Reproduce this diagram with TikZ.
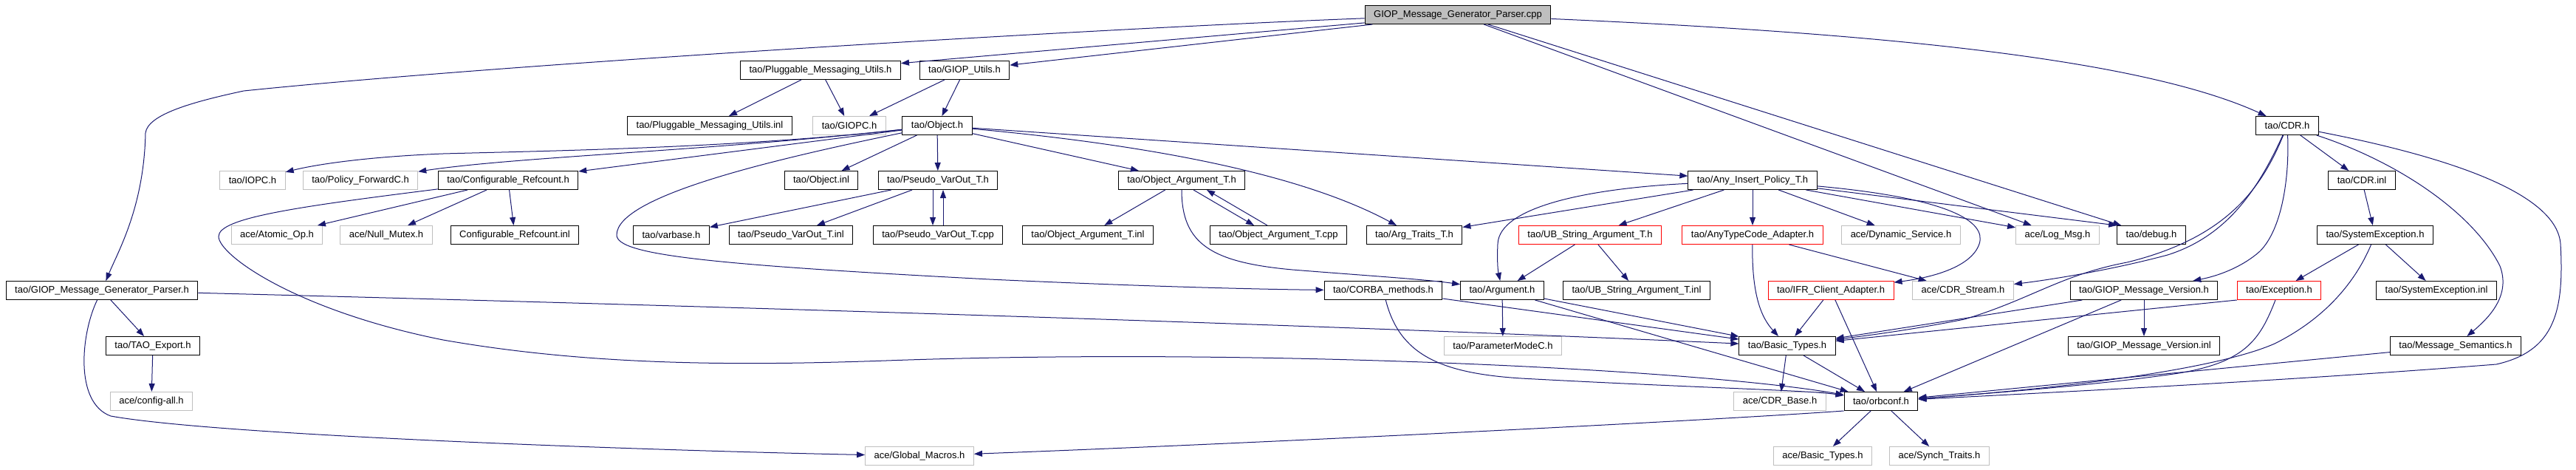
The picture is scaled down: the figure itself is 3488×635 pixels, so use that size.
\documentclass[tikz,border=0pt]{standalone}
\usepackage{fontspec}
\setmainfont{Liberation Sans}
\usetikzlibrary{arrows.meta}
\definecolor{edgeblue}{HTML}{191970}
\definecolor{sysgray}{HTML}{BFBFBF}
\begin{document}
\begin{tikzpicture}[x=1pt,y=-1pt,
	file/.style={draw=black,line width=1pt,minimum height=25pt,inner xsep=12pt,inner ysep=0pt,font=\fontsize{13}{15}\selectfont},
	sysfile/.style={file,draw=sysgray},
	redfile/.style={file,draw=red},
	rootfile/.style={file,fill=sysgray},
	dep/.style={draw=edgeblue,line width=1pt,-{Triangle[length=11pt,width=8pt]}}]
	\useasboundingbox (0,0) rectangle (3488,635);

	\node[rootfile] (root) at (1974,20) {GIOP\_Message\_Generator\_Parser.cpp};
	\foreach \nm/\px/\py/\fdir/\fname in {plugh/1111/95/tao/Pluggable\_Messaging\_Utils.h,
		giouth/1306/95/tao/GIOP\_Utils.h, pluginl/961/170/tao/Pluggable\_Messaging\_Utils.inl,
		objh/1269/170/tao/Object.h, cdrh/3097/170/tao/CDR.h,
		cfgref/688/244/tao/Configurable\_Refcount.h, objinl/1112/244/tao/Object.inl,
		pvoh/1270/244/tao/Pseudo\_VarOut\_T.h, oargh/1600/244/tao/Object\_Argument\_T.h,
		anyins/2373/244/tao/Any\_Insert\_Policy\_T.h, cdrinl/3198/244/tao/CDR.inl,
		varbase/909/318/tao/varbase.h, pvoinl/1071/318/tao/Pseudo\_VarOut\_T.inl,
		pvocpp/1270/318/tao/Pseudo\_VarOut\_T.cpp, oarginl/1473/318/tao/Object\_Argument\_T.inl,
		oargcpp/1731/318/tao/Object\_Argument\_T.cpp, argtr/1915/318/tao/Arg\_Traits\_T.h,
		debug/2913/318/tao/debug.h, sysexc/3216/318/tao/SystemException.h,
		gmgph/138/393/tao/GIOP\_Message\_Generator\_Parser.h, corba/1873/393/tao/CORBA\_methods.h,
		argh/2034/393/tao/Argument.h, ubinl/2216/393/tao/UB\_String\_Argument\_T.inl,
		gmvh/2903/393/tao/GIOP\_Message\_Version.h, sysinl/3299/393/tao/SystemException.inl,
		taoexp/207/468/tao/TAO\_Export.h, btypes/2420/468/tao/Basic\_Types.h,
		gmvinl/2903/468/tao/GIOP\_Message\_Version.inl, msgsem/3325/468/tao/Message\_Semantics.h,
		orbconf/2547/543/tao/orbconf.h} {
	     \node[file] (\nm) at (\px,\py) {\fdir/\fname};
	}
	\node[file] (cfginl) at (697,318) {Configurable\_Refcount.inl};
	\foreach \nm/\px/\py/\fdir/\fname in {giopc/1150/170/tao/GIOPC.h,
		iopc/342/244/tao/IOPC.h, polfwd/488/244/tao/Policy\_ForwardC.h,
		atomic/375/318/ace/Atomic\_Op.h, nullmx/523/318/ace/Null\_Mutex.h,
		dynsvc/2574/318/ace/Dynamic\_Service.h, logmsg/2786/318/ace/Log\_Msg.h,
		cdrstr/2658/393/ace/CDR\_Stream.h, parmc/2035/468/tao/ParameterModeC.h,
		cfgall/205/543/ace/config-all.h, cdrbase/2410/543/ace/CDR\_Base.h,
		glmac/1245/617/ace/Global\_Macros.h, abtypes/2468/617/ace/Basic\_Types.h,
		synch/2626/617/ace/Synch\_Traits.h} {
	     \node[sysfile] (\nm) at (\px,\py) {\fdir/\fname};
	}
	\foreach \nm/\px/\py/\fdir/\fname in {ubstr/2153/318/tao/UB\_String\_Argument\_T.h,
		anytc/2373/318/tao/AnyTypeCode\_Adapter.h, ifr/2479/393/tao/IFR\_Client\_Adapter.h,
		exch/3086/393/tao/Exception.h} {
	     \node[redfile] (\nm) at (\px,\py) {\fdir/\fname};
	}

	% koniec plikow

	\foreach \a/\b in {root/plugh, root/giouth, root/logmsg, root/debug,
		plugh/pluginl, plugh/giopc, giouth/giopc, giouth/objh,
		objh/cfgref, objh/objinl, objh/pvoh, objh/oargh, objh/anyins,
		pvoh/varbase, pvoh/pvoinl, oargh/oarginl,
		cfgref/atomic, cfgref/nullmx, cfgref/cfginl,
		gmgph/taoexp, taoexp/cfgall, corba/btypes,
		argh/parmc, argh/btypes, argh/orbconf, ubstr/argh, ubstr/ubinl,
		anytc/cdrstr, ifr/btypes, ifr/orbconf,
		anyins/ubstr, anyins/anytc, anyins/dynsvc, anyins/logmsg, anyins/argtr,
		cdrh/cdrinl, cdrinl/sysexc, sysexc/exch, sysexc/sysinl,
		gmvh/gmvinl, gmvh/btypes, gmvh/orbconf, msgsem/orbconf,
		btypes/cdrbase, btypes/orbconf, orbconf/abtypes, orbconf/synch} {
	     \draw[dep] (\a) -- (\b);
	}
	\draw[dep] (anyins) -- (debug.north west);
	\draw[dep] (exch.south west) -- (btypes);

	\draw[dep] ([xshift=-7pt]pvoh.south) -- ([xshift=-7pt]pvocpp.north);
	\draw[dep] ([xshift=7pt]pvocpp.north) -- ([xshift=7pt]pvoh.south);
	\draw[dep] ([xshift=16pt]oargh.south) -- ([xshift=-33pt]oargcpp.north);
	\draw[dep] ([xshift=-15pt]oargcpp.north) -- ([xshift=34pt]oargh.south);

	% luki
	\draw[dep] (root) .. controls (1500,38) and (700,85) .. (330,123) .. controls (260,138) and (200,155) .. (197,180) .. controls (195,280) and (160,340) .. (gmgph);
	\draw[dep] (root) .. controls (2550,45) and (2900,80) .. (cdrh);
	\draw[dep] (objh) .. controls (1000,200) and (750,204) .. (600,208) .. controls (500,212) and (430,222) .. (iopc);
	\draw[dep] (objh) .. controls (950,205) and (700,212) .. (polfwd);
	\draw[dep] (objh) .. controls (1600,200) and (1780,245) .. (argtr);
	\draw[dep] (objh) .. controls (1050,215) and (835,265) .. (835,318) .. controls (835,345) and (960,358) .. (1340,378) .. controls (1600,390) and (1750,392) .. (corba);
	\draw[dep] (oargh) .. controls (1600,330) and (1640,355) .. (1750,365) .. controls (1850,373) and (1930,378) .. (argh);
	\draw[dep] (cfgref) .. controls (400,280) and (296,295) .. (296,320) .. controls (296,345) and (400,420) .. (600,460) .. controls (800,495) and (1000,495) .. (1200,488) .. controls (1700,470) and (2300,500) .. (orbconf);
	\draw[dep] (gmgph) .. controls (1000,415) and (1800,440) .. (btypes);
	\draw[dep] (gmgph) .. controls (110,450) and (100,545) .. (150,563) .. controls (300,590) and (900,610) .. (glmac);
	\draw[dep] (corba) .. controls (1895,480) and (1950,505) .. (2060,512) .. controls (2300,525) and (2450,528) .. (orbconf);
	\draw[dep] (anytc) .. controls (2372,400) and (2385,430) .. (btypes);
	\draw[dep] (anyins) .. controls (2150,255) and (2030,280) .. (2028,330) .. controls (2027,350) and (2028,365) .. (argh);
	\draw[dep] (anyins) .. controls (2640,268) and (2690,300) .. (2680,330) .. controls (2670,360) and (2620,375) .. (ifr);
	\draw[dep] (cdrh) .. controls (3060,250) and (3020,318) .. (2935,345) .. controls (2860,365) and (2780,378) .. (cdrstr);
	\draw[dep] (cdrh) .. controls (3062,255) and (3015,322) .. (2880,355) .. controls (2790,372) and (2750,405) .. (2660,432) .. controls (2580,448) and (2520,455) .. (btypes);
	\draw[dep] (cdrh) .. controls (3100,240) and (3090,310) .. (3060,340) .. controls (3040,358) and (3010,372) .. (gmvh);
	\draw[dep] (cdrh) .. controls (3250,220) and (3350,290) .. (3385,360) .. controls (3400,400) and (3370,430) .. (msgsem);
	\draw[dep] (cdrh) .. controls (3330,215) and (3462,265) .. (3467,330) .. controls (3472,420) and (3460,475) .. (3380,493) .. controls (3100,515) and (2800,530) .. (orbconf);
	\draw[dep] (sysexc) .. controls (3190,380) and (3150,430) .. (3080,465) .. controls (3000,500) and (2800,525) .. (orbconf);
	\draw[dep] (exch) .. controls (3060,460) and (3040,490) .. (2950,505) .. controls (2850,520) and (2700,532) .. (orbconf);
	\draw[dep] (orbconf.south west) .. controls (2300,570) and (1700,600) .. (glmac);
\end{tikzpicture}
\end{document}
